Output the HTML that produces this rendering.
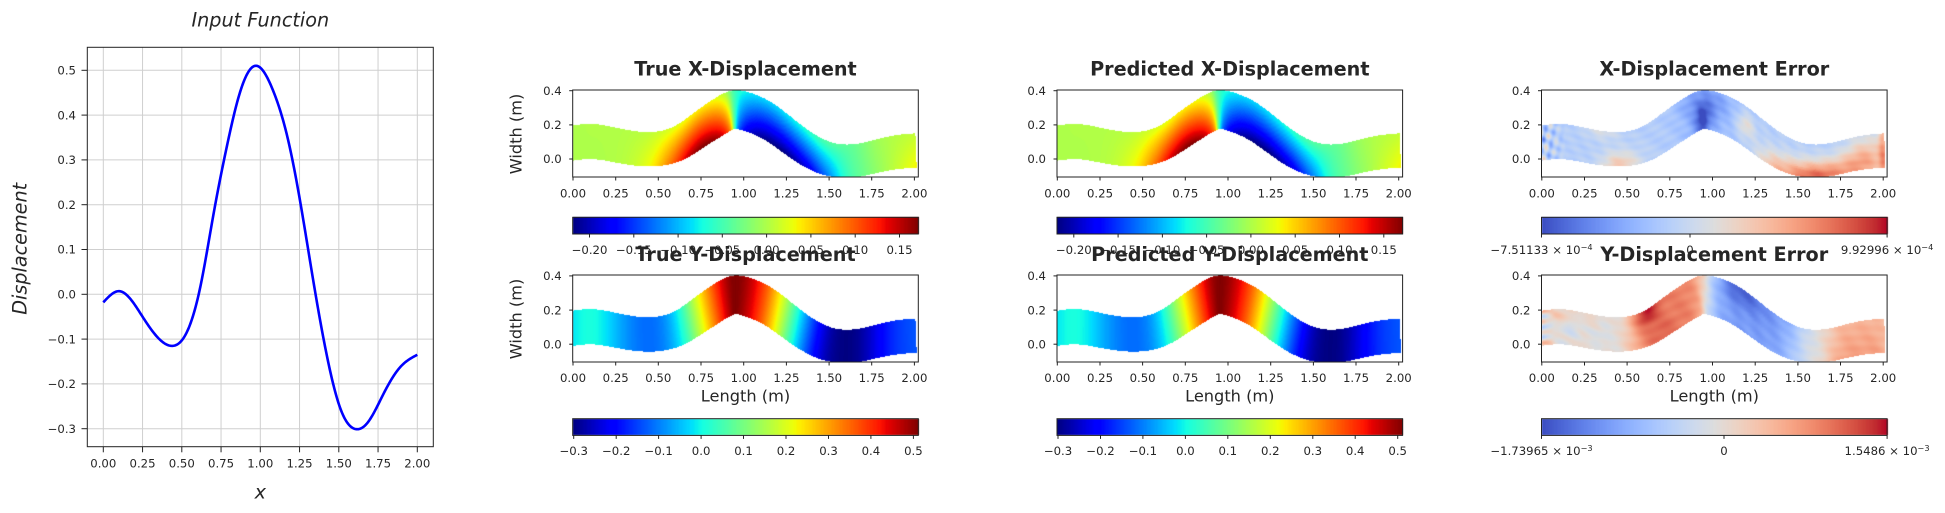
<!DOCTYPE html>
<html><head><meta charset="utf-8">
<style>
html,body{margin:0;padding:0;background:#fff;}
#wrap{position:relative;width:1945px;height:513px;overflow:hidden;background:#fff;}
canvas,svg{position:absolute;left:0;top:0;}
text{font-family:"DejaVu Sans","Liberation Sans",sans-serif;fill:#262626;}
.t{font-size:11.7px;}
.ttl{font-size:19.2px;font-weight:bold;}
.lab{font-size:16.2px;}
.it{font-size:19.2px;font-style:italic;}
</style></head><body>
<div id="wrap">
<canvas id="cv" width="1945" height="513"></canvas>
<svg width="1945" height="513" xmlns="http://www.w3.org/2000/svg">
<!-- LEFT PLOT -->
<g stroke="#cfcfcf" stroke-width="1">
<line x1="103.3" y1="47.3" x2="103.3" y2="446.7"/><line x1="142.55" y1="47.3" x2="142.55" y2="446.7"/><line x1="181.8" y1="47.3" x2="181.8" y2="446.7"/><line x1="221.05" y1="47.3" x2="221.05" y2="446.7"/><line x1="260.3" y1="47.3" x2="260.3" y2="446.7"/><line x1="299.55" y1="47.3" x2="299.55" y2="446.7"/><line x1="338.8" y1="47.3" x2="338.8" y2="446.7"/><line x1="378.05" y1="47.3" x2="378.05" y2="446.7"/><line x1="417.3" y1="47.3" x2="417.3" y2="446.7"/>
<line x1="87.3" y1="70.3" x2="433.3" y2="70.3"/><line x1="87.3" y1="115.1" x2="433.3" y2="115.1"/><line x1="87.3" y1="159.9" x2="433.3" y2="159.9"/><line x1="87.3" y1="204.7" x2="433.3" y2="204.7"/><line x1="87.3" y1="249.5" x2="433.3" y2="249.5"/><line x1="87.3" y1="294.3" x2="433.3" y2="294.3"/><line x1="87.3" y1="339.1" x2="433.3" y2="339.1"/><line x1="87.3" y1="383.9" x2="433.3" y2="383.9"/><line x1="87.3" y1="428.7" x2="433.3" y2="428.7"/>
</g>
<path id="curve" d="" fill="none" stroke="#0000ff" stroke-width="2.6" stroke-linejoin="round"/>
<rect x="87.3" y="47.3" width="346" height="399.4" fill="none" stroke="#222" stroke-width="1"/>
<g stroke="#222" stroke-width="1">
<line x1="81.5" y1="70.3" x2="87.3" y2="70.3"/><line x1="81.5" y1="115.1" x2="87.3" y2="115.1"/><line x1="81.5" y1="159.9" x2="87.3" y2="159.9"/><line x1="81.5" y1="204.7" x2="87.3" y2="204.7"/><line x1="81.5" y1="249.5" x2="87.3" y2="249.5"/><line x1="81.5" y1="294.3" x2="87.3" y2="294.3"/><line x1="81.5" y1="339.1" x2="87.3" y2="339.1"/><line x1="81.5" y1="383.9" x2="87.3" y2="383.9"/><line x1="81.5" y1="428.7" x2="87.3" y2="428.7"/>
<line x1="103.3" y1="446.7" x2="103.3" y2="452.3"/><line x1="142.55" y1="446.7" x2="142.55" y2="452.3"/><line x1="181.8" y1="446.7" x2="181.8" y2="452.3"/><line x1="221.05" y1="446.7" x2="221.05" y2="452.3"/><line x1="260.3" y1="446.7" x2="260.3" y2="452.3"/><line x1="299.55" y1="446.7" x2="299.55" y2="452.3"/><line x1="338.8" y1="446.7" x2="338.8" y2="452.3"/><line x1="378.05" y1="446.7" x2="378.05" y2="452.3"/><line x1="417.3" y1="446.7" x2="417.3" y2="452.3"/>
</g>
<g class="t" text-anchor="end">
<text class="t" x="76" y="74.5">0.5</text><text class="t" x="76" y="119.3">0.4</text><text class="t" x="76" y="164.1">0.3</text><text class="t" x="76" y="208.9">0.2</text><text class="t" x="76" y="253.7">0.1</text><text class="t" x="76" y="298.5">0.0</text><text class="t" x="76" y="343.3">−0.1</text><text class="t" x="76" y="388.1">−0.2</text><text class="t" x="76" y="432.9">−0.3</text>
</g>
<g text-anchor="middle">
<text class="t" x="103.3" y="467.7">0.00</text><text class="t" x="142.55" y="467.7">0.25</text><text class="t" x="181.8" y="467.7">0.50</text><text class="t" x="221.05" y="467.7">0.75</text><text class="t" x="260.3" y="467.7">1.00</text><text class="t" x="299.55" y="467.7">1.25</text><text class="t" x="338.8" y="467.7">1.50</text><text class="t" x="378.05" y="467.7">1.75</text><text class="t" x="417.3" y="467.7">2.00</text>
<text class="it" x="260.3" y="26.7">Input Function</text>
<text class="it" x="260.3" y="498.7">x</text>
<text class="it" transform="translate(26.5,248.8) rotate(-90)" x="0" y="0">Displacement</text>
</g>

<!-- ROW 0 PANELS -->
<g transform="translate(572.7,90)">
<rect x="0" y="0" width="345.6" height="87" fill="none" stroke="#222"/>
<g stroke="#222"><line x1="-3.5" y1="69" x2="0" y2="69"/><line x1="-3.5" y1="34.9" x2="0" y2="34.9"/><line x1="-3.5" y1="0.7" x2="0" y2="0.7"/>
<line x1="0.3" y1="87" x2="0.3" y2="90.5"/><line x1="43" y1="87" x2="43" y2="90.5"/><line x1="85.6" y1="87" x2="85.6" y2="90.5"/><line x1="128.3" y1="87" x2="128.3" y2="90.5"/><line x1="171" y1="87" x2="171" y2="90.5"/><line x1="213.7" y1="87" x2="213.7" y2="90.5"/><line x1="256.4" y1="87" x2="256.4" y2="90.5"/><line x1="299" y1="87" x2="299" y2="90.5"/><line x1="341.7" y1="87" x2="341.7" y2="90.5"/></g>
<g text-anchor="end"><text class="t" x="-11" y="73.2">0.0</text><text class="t" x="-11" y="39.1">0.2</text><text class="t" x="-11" y="4.9">0.4</text></g>
<g text-anchor="middle"><text class="t" x="0.3" y="107.3">0.00</text><text class="t" x="43" y="107.3">0.25</text><text class="t" x="85.6" y="107.3">0.50</text><text class="t" x="128.3" y="107.3">0.75</text><text class="t" x="171" y="107.3">1.00</text><text class="t" x="213.7" y="107.3">1.25</text><text class="t" x="256.4" y="107.3">1.50</text><text class="t" x="299" y="107.3">1.75</text><text class="t" x="341.7" y="107.3">2.00</text>
<text class="ttl" x="172.8" y="-14.3">True X-Displacement</text>
<text class="lab" transform="translate(-51.2,44) rotate(-90)" x="0" y="0">Width (m)</text></g>
</g>
<g transform="translate(1057,90)">
<rect x="0" y="0" width="345.6" height="87" fill="none" stroke="#222"/>
<g stroke="#222"><line x1="-3.5" y1="69" x2="0" y2="69"/><line x1="-3.5" y1="34.9" x2="0" y2="34.9"/><line x1="-3.5" y1="0.7" x2="0" y2="0.7"/>
<line x1="0.3" y1="87" x2="0.3" y2="90.5"/><line x1="43" y1="87" x2="43" y2="90.5"/><line x1="85.6" y1="87" x2="85.6" y2="90.5"/><line x1="128.3" y1="87" x2="128.3" y2="90.5"/><line x1="171" y1="87" x2="171" y2="90.5"/><line x1="213.7" y1="87" x2="213.7" y2="90.5"/><line x1="256.4" y1="87" x2="256.4" y2="90.5"/><line x1="299" y1="87" x2="299" y2="90.5"/><line x1="341.7" y1="87" x2="341.7" y2="90.5"/></g>
<g text-anchor="end"><text class="t" x="-11" y="73.2">0.0</text><text class="t" x="-11" y="39.1">0.2</text><text class="t" x="-11" y="4.9">0.4</text></g>
<g text-anchor="middle"><text class="t" x="0.3" y="107.3">0.00</text><text class="t" x="43" y="107.3">0.25</text><text class="t" x="85.6" y="107.3">0.50</text><text class="t" x="128.3" y="107.3">0.75</text><text class="t" x="171" y="107.3">1.00</text><text class="t" x="213.7" y="107.3">1.25</text><text class="t" x="256.4" y="107.3">1.50</text><text class="t" x="299" y="107.3">1.75</text><text class="t" x="341.7" y="107.3">2.00</text>
<text class="ttl" x="172.8" y="-14.3">Predicted X-Displacement</text></g>
</g>
<g transform="translate(1541.5,90)">
<rect x="0" y="0" width="345.6" height="87" fill="none" stroke="#222"/>
<g stroke="#222"><line x1="-3.5" y1="69" x2="0" y2="69"/><line x1="-3.5" y1="34.9" x2="0" y2="34.9"/><line x1="-3.5" y1="0.7" x2="0" y2="0.7"/>
<line x1="0.3" y1="87" x2="0.3" y2="90.5"/><line x1="43" y1="87" x2="43" y2="90.5"/><line x1="85.6" y1="87" x2="85.6" y2="90.5"/><line x1="128.3" y1="87" x2="128.3" y2="90.5"/><line x1="171" y1="87" x2="171" y2="90.5"/><line x1="213.7" y1="87" x2="213.7" y2="90.5"/><line x1="256.4" y1="87" x2="256.4" y2="90.5"/><line x1="299" y1="87" x2="299" y2="90.5"/><line x1="341.7" y1="87" x2="341.7" y2="90.5"/></g>
<g text-anchor="end"><text class="t" x="-11" y="73.2">0.0</text><text class="t" x="-11" y="39.1">0.2</text><text class="t" x="-11" y="4.9">0.4</text></g>
<g text-anchor="middle"><text class="t" x="0.3" y="107.3">0.00</text><text class="t" x="43" y="107.3">0.25</text><text class="t" x="85.6" y="107.3">0.50</text><text class="t" x="128.3" y="107.3">0.75</text><text class="t" x="171" y="107.3">1.00</text><text class="t" x="213.7" y="107.3">1.25</text><text class="t" x="256.4" y="107.3">1.50</text><text class="t" x="299" y="107.3">1.75</text><text class="t" x="341.7" y="107.3">2.00</text>
<text class="ttl" x="172.8" y="-14.3">X-Displacement Error</text></g>
</g>

<!-- ROW 0 COLORBARS -->
<g transform="translate(572.7,217.3)">
<rect x="0" y="0" width="345.6" height="16.7" fill="none" stroke="#222"/>
<g stroke="#222"><line x1="16.8" y1="16.7" x2="16.8" y2="20.2"/><line x1="61.1" y1="16.7" x2="61.1" y2="20.2"/><line x1="105.4" y1="16.7" x2="105.4" y2="20.2"/><line x1="149.6" y1="16.7" x2="149.6" y2="20.2"/><line x1="193.9" y1="16.7" x2="193.9" y2="20.2"/><line x1="238.2" y1="16.7" x2="238.2" y2="20.2"/><line x1="282.5" y1="16.7" x2="282.5" y2="20.2"/><line x1="326.8" y1="16.7" x2="326.8" y2="20.2"/></g>
<g text-anchor="middle"><text class="t" x="16.8" y="36.7">−0.20</text><text class="t" x="61.1" y="36.7">−0.15</text><text class="t" x="105.4" y="36.7">−0.10</text><text class="t" x="149.6" y="36.7">−0.05</text><text class="t" x="193.9" y="36.7">0.00</text><text class="t" x="238.2" y="36.7">0.05</text><text class="t" x="282.5" y="36.7">0.10</text><text class="t" x="326.8" y="36.7">0.15</text></g>
</g>
<g transform="translate(1057,217.3)">
<rect x="0" y="0" width="345.6" height="16.7" fill="none" stroke="#222"/>
<g stroke="#222"><line x1="16.8" y1="16.7" x2="16.8" y2="20.2"/><line x1="61.1" y1="16.7" x2="61.1" y2="20.2"/><line x1="105.4" y1="16.7" x2="105.4" y2="20.2"/><line x1="149.6" y1="16.7" x2="149.6" y2="20.2"/><line x1="193.9" y1="16.7" x2="193.9" y2="20.2"/><line x1="238.2" y1="16.7" x2="238.2" y2="20.2"/><line x1="282.5" y1="16.7" x2="282.5" y2="20.2"/><line x1="326.8" y1="16.7" x2="326.8" y2="20.2"/></g>
<g text-anchor="middle"><text class="t" x="16.8" y="36.7">−0.20</text><text class="t" x="61.1" y="36.7">−0.15</text><text class="t" x="105.4" y="36.7">−0.10</text><text class="t" x="149.6" y="36.7">−0.05</text><text class="t" x="193.9" y="36.7">0.00</text><text class="t" x="238.2" y="36.7">0.05</text><text class="t" x="282.5" y="36.7">0.10</text><text class="t" x="326.8" y="36.7">0.15</text></g>
</g>
<g transform="translate(1541.5,217.3)">
<rect x="0" y="0" width="345.6" height="16.7" fill="none" stroke="#222"/>
<g stroke="#222"><line x1="0" y1="16.7" x2="0" y2="20.2"/><line x1="148.5" y1="16.7" x2="148.5" y2="20.2"/><line x1="345.6" y1="16.7" x2="345.6" y2="20.2"/></g>
<g text-anchor="middle"><text class="t" x="0" y="36.7">−7.51133 × 10<tspan dy="-4" font-size="8.2">−4</tspan></text><text class="t" x="148.5" y="36.7">0</text><text class="t" x="345.6" y="36.7">9.92996 × 10<tspan dy="-4" font-size="8.2">−4</tspan></text></g>
</g>

<!-- ROW 1 PANELS -->
<g transform="translate(572.7,275)">
<rect x="0" y="0" width="345.6" height="87" fill="none" stroke="#222"/>
<g stroke="#222"><line x1="-3.5" y1="69.2" x2="0" y2="69.2"/><line x1="-3.5" y1="35.1" x2="0" y2="35.1"/><line x1="-3.5" y1="0.9" x2="0" y2="0.9"/>
<line x1="0.3" y1="87" x2="0.3" y2="90.5"/><line x1="43" y1="87" x2="43" y2="90.5"/><line x1="85.6" y1="87" x2="85.6" y2="90.5"/><line x1="128.3" y1="87" x2="128.3" y2="90.5"/><line x1="171" y1="87" x2="171" y2="90.5"/><line x1="213.7" y1="87" x2="213.7" y2="90.5"/><line x1="256.4" y1="87" x2="256.4" y2="90.5"/><line x1="299" y1="87" x2="299" y2="90.5"/><line x1="341.7" y1="87" x2="341.7" y2="90.5"/></g>
<g text-anchor="end"><text class="t" x="-11" y="73.4">0.0</text><text class="t" x="-11" y="39.3">0.2</text><text class="t" x="-11" y="5.1">0.4</text></g>
<g text-anchor="middle"><text class="t" x="0.3" y="107">0.00</text><text class="t" x="43" y="107">0.25</text><text class="t" x="85.6" y="107">0.50</text><text class="t" x="128.3" y="107">0.75</text><text class="t" x="171" y="107">1.00</text><text class="t" x="213.7" y="107">1.25</text><text class="t" x="256.4" y="107">1.50</text><text class="t" x="299" y="107">1.75</text><text class="t" x="341.7" y="107">2.00</text>
<text class="ttl" x="172.8" y="-14">True Y-Displacement</text>
<text class="lab" x="172.8" y="126.7">Length (m)</text>
<text class="lab" transform="translate(-51.2,44) rotate(-90)" x="0" y="0">Width (m)</text></g>
</g>
<g transform="translate(1057,275)">
<rect x="0" y="0" width="345.6" height="87" fill="none" stroke="#222"/>
<g stroke="#222"><line x1="-3.5" y1="69.2" x2="0" y2="69.2"/><line x1="-3.5" y1="35.1" x2="0" y2="35.1"/><line x1="-3.5" y1="0.9" x2="0" y2="0.9"/>
<line x1="0.3" y1="87" x2="0.3" y2="90.5"/><line x1="43" y1="87" x2="43" y2="90.5"/><line x1="85.6" y1="87" x2="85.6" y2="90.5"/><line x1="128.3" y1="87" x2="128.3" y2="90.5"/><line x1="171" y1="87" x2="171" y2="90.5"/><line x1="213.7" y1="87" x2="213.7" y2="90.5"/><line x1="256.4" y1="87" x2="256.4" y2="90.5"/><line x1="299" y1="87" x2="299" y2="90.5"/><line x1="341.7" y1="87" x2="341.7" y2="90.5"/></g>
<g text-anchor="end"><text class="t" x="-11" y="73.4">0.0</text><text class="t" x="-11" y="39.3">0.2</text><text class="t" x="-11" y="5.1">0.4</text></g>
<g text-anchor="middle"><text class="t" x="0.3" y="107">0.00</text><text class="t" x="43" y="107">0.25</text><text class="t" x="85.6" y="107">0.50</text><text class="t" x="128.3" y="107">0.75</text><text class="t" x="171" y="107">1.00</text><text class="t" x="213.7" y="107">1.25</text><text class="t" x="256.4" y="107">1.50</text><text class="t" x="299" y="107">1.75</text><text class="t" x="341.7" y="107">2.00</text>
<text class="ttl" x="172.8" y="-14">Predicted Y-Displacement</text>
<text class="lab" x="172.8" y="126.7">Length (m)</text></g>
</g>
<g transform="translate(1541.5,275)">
<rect x="0" y="0" width="345.6" height="87" fill="none" stroke="#222"/>
<g stroke="#222"><line x1="-3.5" y1="69.2" x2="0" y2="69.2"/><line x1="-3.5" y1="35.1" x2="0" y2="35.1"/><line x1="-3.5" y1="0.9" x2="0" y2="0.9"/>
<line x1="0.3" y1="87" x2="0.3" y2="90.5"/><line x1="43" y1="87" x2="43" y2="90.5"/><line x1="85.6" y1="87" x2="85.6" y2="90.5"/><line x1="128.3" y1="87" x2="128.3" y2="90.5"/><line x1="171" y1="87" x2="171" y2="90.5"/><line x1="213.7" y1="87" x2="213.7" y2="90.5"/><line x1="256.4" y1="87" x2="256.4" y2="90.5"/><line x1="299" y1="87" x2="299" y2="90.5"/><line x1="341.7" y1="87" x2="341.7" y2="90.5"/></g>
<g text-anchor="end"><text class="t" x="-11" y="73.4">0.0</text><text class="t" x="-11" y="39.3">0.2</text><text class="t" x="-11" y="5.1">0.4</text></g>
<g text-anchor="middle"><text class="t" x="0.3" y="107">0.00</text><text class="t" x="43" y="107">0.25</text><text class="t" x="85.6" y="107">0.50</text><text class="t" x="128.3" y="107">0.75</text><text class="t" x="171" y="107">1.00</text><text class="t" x="213.7" y="107">1.25</text><text class="t" x="256.4" y="107">1.50</text><text class="t" x="299" y="107">1.75</text><text class="t" x="341.7" y="107">2.00</text>
<text class="ttl" x="172.8" y="-14">Y-Displacement Error</text>
<text class="lab" x="172.8" y="126.7">Length (m)</text></g>
</g>

<!-- ROW 1 COLORBARS -->
<g transform="translate(572.7,418.7)">
<rect x="0" y="0" width="345.6" height="16.7" fill="none" stroke="#222"/>
<g stroke="#222"><line x1="1" y1="16.7" x2="1" y2="20.2"/><line x1="43.5" y1="16.7" x2="43.5" y2="20.2"/><line x1="85.9" y1="16.7" x2="85.9" y2="20.2"/><line x1="128.4" y1="16.7" x2="128.4" y2="20.2"/><line x1="170.8" y1="16.7" x2="170.8" y2="20.2"/><line x1="213.3" y1="16.7" x2="213.3" y2="20.2"/><line x1="255.8" y1="16.7" x2="255.8" y2="20.2"/><line x1="298.2" y1="16.7" x2="298.2" y2="20.2"/><line x1="340.7" y1="16.7" x2="340.7" y2="20.2"/></g>
<g text-anchor="middle"><text class="t" x="1" y="36.5">−0.3</text><text class="t" x="43.5" y="36.5">−0.2</text><text class="t" x="85.9" y="36.5">−0.1</text><text class="t" x="128.4" y="36.5">0.0</text><text class="t" x="170.8" y="36.5">0.1</text><text class="t" x="213.3" y="36.5">0.2</text><text class="t" x="255.8" y="36.5">0.3</text><text class="t" x="298.2" y="36.5">0.4</text><text class="t" x="340.7" y="36.5">0.5</text></g>
</g>
<g transform="translate(1057,418.7)">
<rect x="0" y="0" width="345.6" height="16.7" fill="none" stroke="#222"/>
<g stroke="#222"><line x1="1" y1="16.7" x2="1" y2="20.2"/><line x1="43.5" y1="16.7" x2="43.5" y2="20.2"/><line x1="85.9" y1="16.7" x2="85.9" y2="20.2"/><line x1="128.4" y1="16.7" x2="128.4" y2="20.2"/><line x1="170.8" y1="16.7" x2="170.8" y2="20.2"/><line x1="213.3" y1="16.7" x2="213.3" y2="20.2"/><line x1="255.8" y1="16.7" x2="255.8" y2="20.2"/><line x1="298.2" y1="16.7" x2="298.2" y2="20.2"/><line x1="340.7" y1="16.7" x2="340.7" y2="20.2"/></g>
<g text-anchor="middle"><text class="t" x="1" y="36.5">−0.3</text><text class="t" x="43.5" y="36.5">−0.2</text><text class="t" x="85.9" y="36.5">−0.1</text><text class="t" x="128.4" y="36.5">0.0</text><text class="t" x="170.8" y="36.5">0.1</text><text class="t" x="213.3" y="36.5">0.2</text><text class="t" x="255.8" y="36.5">0.3</text><text class="t" x="298.2" y="36.5">0.4</text><text class="t" x="340.7" y="36.5">0.5</text></g>
</g>
<g transform="translate(1541.5,418.7)">
<rect x="0" y="0" width="345.6" height="16.7" fill="none" stroke="#222"/>
<g stroke="#222"><line x1="0" y1="16.7" x2="0" y2="20.2"/><line x1="182.5" y1="16.7" x2="182.5" y2="20.2"/><line x1="345.6" y1="16.7" x2="345.6" y2="20.2"/></g>
<g text-anchor="middle"><text class="t" x="0" y="36.5">−1.73965 × 10<tspan dy="-4" font-size="8.2">−3</tspan></text><text class="t" x="182.5" y="36.5">0</text><text class="t" x="345.6" y="36.5">1.5486 × 10<tspan dy="-4" font-size="8.2">−3</tspan></text></g>
</g>
</svg>
</div>
<script>
(function(){
function ncs(pts){
  var n=pts.length,xs=pts.map(function(p){return p[0];}),ys=pts.map(function(p){return p[1];});
  var h=[],i;
  for(i=0;i<n-1;i++) h.push(xs[i+1]-xs[i]);
  var a=[],b=[],c=[],r=[];
  for(i=0;i<n;i++){
    if(i==0||i==n-1){a[i]=0;b[i]=1;c[i]=0;r[i]=0;}
    else{a[i]=h[i-1];b[i]=2*(h[i-1]+h[i]);c[i]=h[i];r[i]=6*((ys[i+1]-ys[i])/h[i]-(ys[i]-ys[i-1])/h[i-1]);}
  }
  for(i=1;i<n;i++){var m=a[i]/b[i-1];b[i]-=m*c[i-1];r[i]-=m*r[i-1];}
  var M=[];M[n-1]=r[n-1]/b[n-1];
  for(i=n-2;i>=0;i--) M[i]=(r[i]-c[i]*M[i+1])/b[i];
  return function(x){
    if(x<=xs[0]) return ys[0];
    if(x>=xs[n-1]) return ys[n-1];
    var k=0; while(k<n-2 && x>xs[k+1]) k++;
    var hk=h[k],A=xs[k+1]-x,B=x-xs[k];
    return M[k]*A*A*A/(6*hk)+M[k+1]*B*B*B/(6*hk)+(ys[k]/hk-M[k]*hk/6)*A+(ys[k+1]/hk-M[k+1]*hk/6)*B;
  };
}
function herm(pts, zi){
  var n=pts.length, xs=pts.map(function(p){return p[0];}), ys=pts.map(function(p){return p[1];}), m=[];
  for(var i=0;i<n;i++){
    if(i==0) m[i]=(ys[1]-ys[0])/(xs[1]-xs[0]);
    else if(i==n-1) m[i]=(ys[n-1]-ys[n-2])/(xs[n-1]-xs[n-2]);
    else m[i]=(ys[i+1]-ys[i-1])/(xs[i+1]-xs[i-1]);
  }
  (zi||[]).forEach(function(k){m[k]=0;});
  return function(x){
    if(x<=xs[0]) return ys[0];
    if(x>=xs[n-1]) return ys[n-1];
    var k=0; while(k<n-2 && x>xs[k+1]) k++;
    var h=xs[k+1]-xs[k], t=(x-xs[k])/h, t2=t*t, t3=t2*t;
    return (2*t3-3*t2+1)*ys[k]+(t3-2*t2+t)*h*m[k]+(-2*t3+3*t2)*ys[k+1]+(t3-t2)*h*m[k+1];
  };
}
var F=ncs([[0,-0.018],[0.1,0.007],[0.25,-0.05],[0.43,-0.115],[0.53,-0.086],[0.62,0.02],[0.70,0.175],[0.79,0.335],[0.87,0.45],[0.967,0.51],[1.08,0.456],[1.17,0.355],[1.255,0.205],[1.34,0.025],[1.42,-0.13],[1.51,-0.255],[1.61,-0.301],[1.68,-0.288],[1.785,-0.222],[1.89,-0.163],[2.0,-0.135]]);
var UB=herm([[0,0],[0.3,0.005],[0.45,0.035],[0.55,0.09],[0.64,0.15],[0.72,0.172],[0.82,0.15],[0.9,0.08],[0.96,-0.04],[1.02,-0.14],[1.12,-0.2],[1.28,-0.22],[1.42,-0.19],[1.52,-0.13],[1.62,-0.06],[1.72,-0.03],[1.85,0.0],[2.0,0.035]],[5,11]);
var UT=herm([[0,0],[0.4,0.005],[0.6,0.025],[0.75,0.04],[0.88,0.01],[0.96,-0.05],[1.05,-0.08],[1.2,-0.09],[1.35,-0.075],[1.5,-0.045],[1.65,-0.035],[1.8,-0.005],[2.0,0.01]]);

var d='';
for(var i=0;i<=500;i++){var X=2*i/500;var x=103.3+157*X,y=294.3-448*F(X);d+=(i?'L':'M')+x.toFixed(2)+' '+y.toFixed(2);}
document.getElementById('curve').setAttribute('d',d);

function pl(v,pts){for(var i=0;i<pts.length-1;i++){if(v<=pts[i+1][0]){var a=pts[i],b=pts[i+1];return a[1]+(b[1]-a[1])*(v-a[0])/(b[0]-a[0]);}}return pts[pts.length-1][1];}
var JR=[[0,0],[0.35,0],[0.66,1],[0.89,1],[1,0.5]],JG=[[0,0],[0.125,0],[0.375,1],[0.64,1],[0.91,0],[1,0]],JB=[[0,0.5],[0.11,1],[0.34,1],[0.65,0],[1,0]];
var CW=[[59,76,192],[68,90,204],[77,104,215],[87,117,225],[98,130,234],[108,142,241],[119,154,247],[130,165,251],[141,176,254],[152,185,255],[163,194,255],[174,201,253],[184,208,249],[194,213,244],[204,217,238],[213,219,230],[221,221,221],[229,216,209],[236,211,197],[241,204,185],[245,196,173],[247,187,160],[247,177,148],[247,166,135],[244,154,123],[241,141,111],[236,127,99],[229,112,88],[222,96,77],[213,80,66],[203,62,56],[192,40,47],[180,4,38]];
var LJ=[],LC=[];
for(var i=0;i<256;i++){
  var v=i/255;
  LJ.push([Math.round(pl(v,JR)*255),Math.round(pl(v,JG)*255),Math.round(pl(v,JB)*255)]);
  var s=v*32,k=Math.min(31,Math.floor(s)),f=s-k,a=CW[k],b=CW[k+1];
  LC.push([Math.round(a[0]+(b[0]-a[0])*f),Math.round(a[1]+(b[1]-a[1])*f),Math.round(a[2]+(b[2]-a[2])*f)]);
}
function idx(v){return Math.max(0,Math.min(255,Math.round(v*255)));}
function G(x,c,w){var z=(x-c)/w;return Math.exp(-z*z);}
function pX(X,t){
  var p=0.37;
  p-=0.30*G(X,0.95,0.08)*G(t,0.25,0.45);
  p-=0.12*G(X,0.97,0.2);
  p-=0.08*G(X,1.05,0.1)*G(t,0.7,0.35);
  p-=0.06*G(X,0.85,0.08)*G(t,0.8,0.3);
  p+=0.50*G(X,1.62,0.2)*G(t,0,0.5);
  p+=0.30*G(X,1.9,0.13)*G(t,0.25,0.7);
  p+=0.25*G(X,1.995,0.025);
  p+=0.25*G(X,0.45,0.1)*G(t,0,0.45);
  p+=0.17*G(X,1.24,0.05)*G(t,0.55,0.3);
  p+=0.10*G(X,0.35,0.1)*G(t,1,0.25);
  p+=0.10*G(X,1.4,0.08)*G(t,0,0.4);
  if(X<0.15) p+=0.25*(1-X/0.15)*Math.sin(X*90+t*6)*Math.cos(t*11-X*30);
  p+=0.03*Math.sin(X*40+t*17)*Math.sin(X*23-t*9);
  return p;
}
function pY(X,t){
  var p=0.5;
  p+=0.31*Math.exp(-Math.pow((X-0.73)/0.23,4));
  p+=0.20*G(X,0.6,0.07)*G(t,0.9,0.35);
  p+=0.06*G(X,0.65,0.1)*G(t,0.2,0.3);
  p-=0.30*Math.exp(-Math.pow((X-1.28)/0.26,4));
  p-=0.15*G(X,1.2,0.14)*G(t,0.95,0.4);
  p+=0.24*Math.exp(-Math.pow((X-1.87)/0.19,4))*(1-0.25*t);
  if(X<0.45){var a=1-X/0.45;p+=a*(0.04+0.07*Math.sin(X*35+t*5)*Math.cos(t*8)+0.06*G(t,0.9,0.2)-0.07*G(t,0.45,0.2));}
  if(X<0.08) p+=0.15*(1-X/0.08)*Math.sin(t*20);
  p+=0.025*Math.sin(X*37+t*13)*Math.sin(X*19-t*7);
  return p;
}
var cv=document.getElementById('cv'),ctx=cv.getContext('2d');
var Wd=1945,Ht=513;
var img=ctx.createImageData(Wd,Ht),D=img.data;
for(var q=0;q<D.length;q+=4){D[q]=255;D[q+1]=255;D[q+2]=255;D[q+3]=255;}
function setPx(x,y,c){var k=(y*Wd+x)*4;D[k]=c[0];D[k+1]=c[1];D[k+2]=c[2];D[k+3]=255;}
var Ls=[572.7,1057,1541.5],Y0s=[159,344.2],Ts=[90,275],W=345.6;
var XV0=-0.219,XV1=0.1712,YV0=-0.30236,YV1=0.5116;
var SX=0.3,SY=0.3725,K=0.526;
var panels=[[0,0,'ux'],[1,0,'ux'],[2,0,'ex'],[0,1,'uy'],[1,1,'uy'],[2,1,'ey']];
var NX=1600,NY=180;
var pre=[];
for(var i=0;i<=NX;i++){var X=2*i/NX;pre.push([X,F(X),UB(X),UT(X)]);}
panels.forEach(function(pn){
  var L=Ls[pn[0]],Y0=Y0s[pn[1]],T=Ts[pn[1]],type=pn[2];
  var xmin=Math.ceil(L),xmax=L+W-0.5,ymin=Math.ceil(T),ymax=T+87-0.5;
  for(var i=0;i<=NX;i++){
    var X=pre[i][0],fX=pre[i][1],ub=pre[i][2],ut=pre[i][3];
    for(var j=0;j<=NY;j++){
      var t=j/NY,Y=0.2*t,u=ub+(ut-ub)*t;
      var xd=X+SX*u,yd=Y+SY*fX*(1+K*(Y-0.1));
      var px=Math.floor(L+0.3+170.7*xd),py=Math.floor(Y0-170.7*yd);
      if(px<xmin||px>xmax||py<ymin||py>ymax) continue;
      var c;
      if(type=='ux') c=LJ[idx((u-XV0)/(XV1-XV0))];
      else if(type=='uy') c=LJ[idx((fX-YV0)/(YV1-YV0))];
      else if(type=='ex') c=LC[idx(pX(X,t))];
      else c=LC[idx(pY(X,t))];
      setPx(px,py,c);
    }
  }
});
var CTs=[217.3,418.7];
for(var r=0;r<2;r++){
  for(var c=0;c<3;c++){
    var L=Ls[c],CT=CTs[r];
    for(var px=Math.ceil(L);px<=Math.floor(L+W);px++){
      var pos=(px+0.5-L)/W;
      var col=(c<2)?LJ[idx(pos)]:LC[idx(pos)];
      for(var py=Math.round(CT);py<Math.round(CT+16.7);py++) setPx(px,py,col);
    }
  }
}
ctx.putImageData(img,0,0);
})();
</script>
</body></html>
